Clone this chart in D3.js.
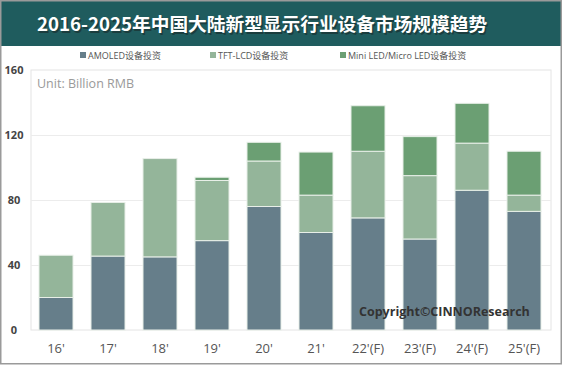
<!DOCTYPE html>
<html><head><meta charset="utf-8">
<script src="https://cdn.jsdelivr.net/npm/d3@7"></script>
<style>
html,body{margin:0;padding:0;background:#fff;}
svg{display:block;font-family:"Open Sans","Noto Sans CJK SC",sans-serif;}
</style></head>
<body>
<svg id="c" width="562" height="366"></svg>
<script>
const categories = ["16'","17'","18'","19'","20'","21'","22'(F)","23'(F)","24'(F)","25'(F)"];
const amoled = [20, 45.5, 45, 55, 76, 60, 69, 56, 86, 73];
const tftlcd = [26, 33, 60.5, 37, 28, 23, 41, 39, 29, 10];
const miniled = [0, 0, 0, 2, 11.5, 26.5, 28, 24, 24.5, 27];
const seriesNames = ["AMOLED设备投资","TFT-LCD设备投资","Mini LED/Micro LED设备投资"];
const yTicks = [0, 40, 80, 120, 160];
const title = "2016-2025年中国大陆新型显示行业设备市场规模趋势";

const colors = ["#667e8a","#94b59a","#6b9f73"];
const svg = d3.select("#c");

// header band
svg.append("rect").attr("x",0).attr("y",0).attr("width",562).attr("height",46).attr("fill","#1f5c5e");
svg.append("text").attr("x",262).attr("y",31).attr("text-anchor","middle")
  .attr("font-size",18.7).attr("font-weight","bold").attr("fill","#1a2a2a").attr("opacity",0.6)
  .attr("transform","translate(1.5,1.5)")
  .style("font-family","'Noto Sans CJK SC',sans-serif").text(title);
svg.append("text").attr("x",262).attr("y",31).attr("text-anchor","middle")
  .attr("font-size",18.7).attr("font-weight","bold").attr("fill","#ffffff")
  .style("font-family","'Noto Sans CJK SC',sans-serif").text(title);

// outer border
svg.append("rect").attr("x",0.75).attr("y",0.75).attr("width",560.5).attr("height",363).attr("fill","none")
  .attr("stroke","#9a9a9a").attr("stroke-width",1.5);

const x0 = 31, x1 = 551, yTop = 70, yBot = 330;
const x = d3.scaleBand().domain(categories).range([28.6, 551.4]).paddingInner(0.346).paddingOuter(0.2);
const y = d3.scaleLinear().domain([0,160]).range([yBot, yTop]);

// plot frame
svg.append("rect").attr("x",x0).attr("y",yTop).attr("width",x1-x0).attr("height",yBot-yTop)
  .attr("fill","none").attr("stroke","#e4e4e4").attr("stroke-width",1);

// gridlines
svg.append("g").selectAll("line").data(yTicks.filter(d=>d>0&&d<160)).join("line")
  .attr("x1",x0).attr("x2",x1).attr("y1",d=>y(d)+0.5).attr("y2",d=>y(d)+0.5)
  .attr("stroke","#ececec").attr("stroke-width",1);

// y axis
const yAxis = d3.axisLeft(y).tickValues(yTicks).tickSize(0).tickPadding(0);
const ya = svg.append("g").attr("transform",`translate(14,0)`).call(yAxis);
ya.select(".domain").remove();
ya.selectAll("text").attr("text-anchor","middle").attr("font-size",11).attr("font-weight","bold")
  .attr("fill","#444").attr("dy","0.35em").style("font-family","'Open Sans',sans-serif");

// stacked bars
const rows = categories.map((c,i)=>({cat:c, a:amoled[i], t:tftlcd[i], m:miniled[i]}));
const stack = d3.stack().keys(["a","t","m"])(rows);
svg.append("g").selectAll("g").data(stack).join("g")
  .attr("fill",(d,i)=>colors[i])
  .selectAll("rect").data(d=>d.filter(v=>v[1]-v[0]>0)).join("rect")
  .attr("x",d=>x(d.data.cat)).attr("width",x.bandwidth())
  .attr("y",d=>y(d[1])).attr("height",d=>y(d[0])-y(d[1]))
  .attr("stroke","#e8efe8").attr("stroke-width",1);

// x axis
const xAxis = d3.axisBottom(x).tickSize(0).tickPadding(0);
const xa = svg.append("g").attr("transform",`translate(0,348)`).call(xAxis);
xa.select(".domain").remove();
xa.selectAll("text").attr("font-size",13).attr("fill","#555").attr("dy","0.35em")
  .style("font-family","'Open Sans',sans-serif");

// unit
svg.append("text").attr("x",37).attr("y",88).attr("font-size",12.5).attr("fill","#9a9a9a")
  .style("font-family","'Open Sans',sans-serif").text("Unit: Billion RMB");

// legend
const legX = [80, 210, 340];
const lg = svg.append("g").selectAll("g").data(seriesNames).join("g")
  .attr("transform",(d,i)=>`translate(${legX[i]},56)`);
lg.append("rect").attr("x",0).attr("y",-4).attr("width",6).attr("height",6).attr("fill",(d,i)=>colors[i]);
lg.append("text").attr("x",8).attr("y",0).attr("dy","0.35em").attr("font-size",9).attr("fill","#555")
  .style("font-family","'Open Sans','Noto Sans CJK SC',sans-serif").text(d=>d);

// copyright
svg.append("text").attr("x",359).attr("y",316).attr("font-size",12.5).attr("font-weight","bold")
  .attr("fill","#333").style("font-family","'Open Sans',sans-serif").text("Copyright©CINNOResearch");
</script>
</body></html>
